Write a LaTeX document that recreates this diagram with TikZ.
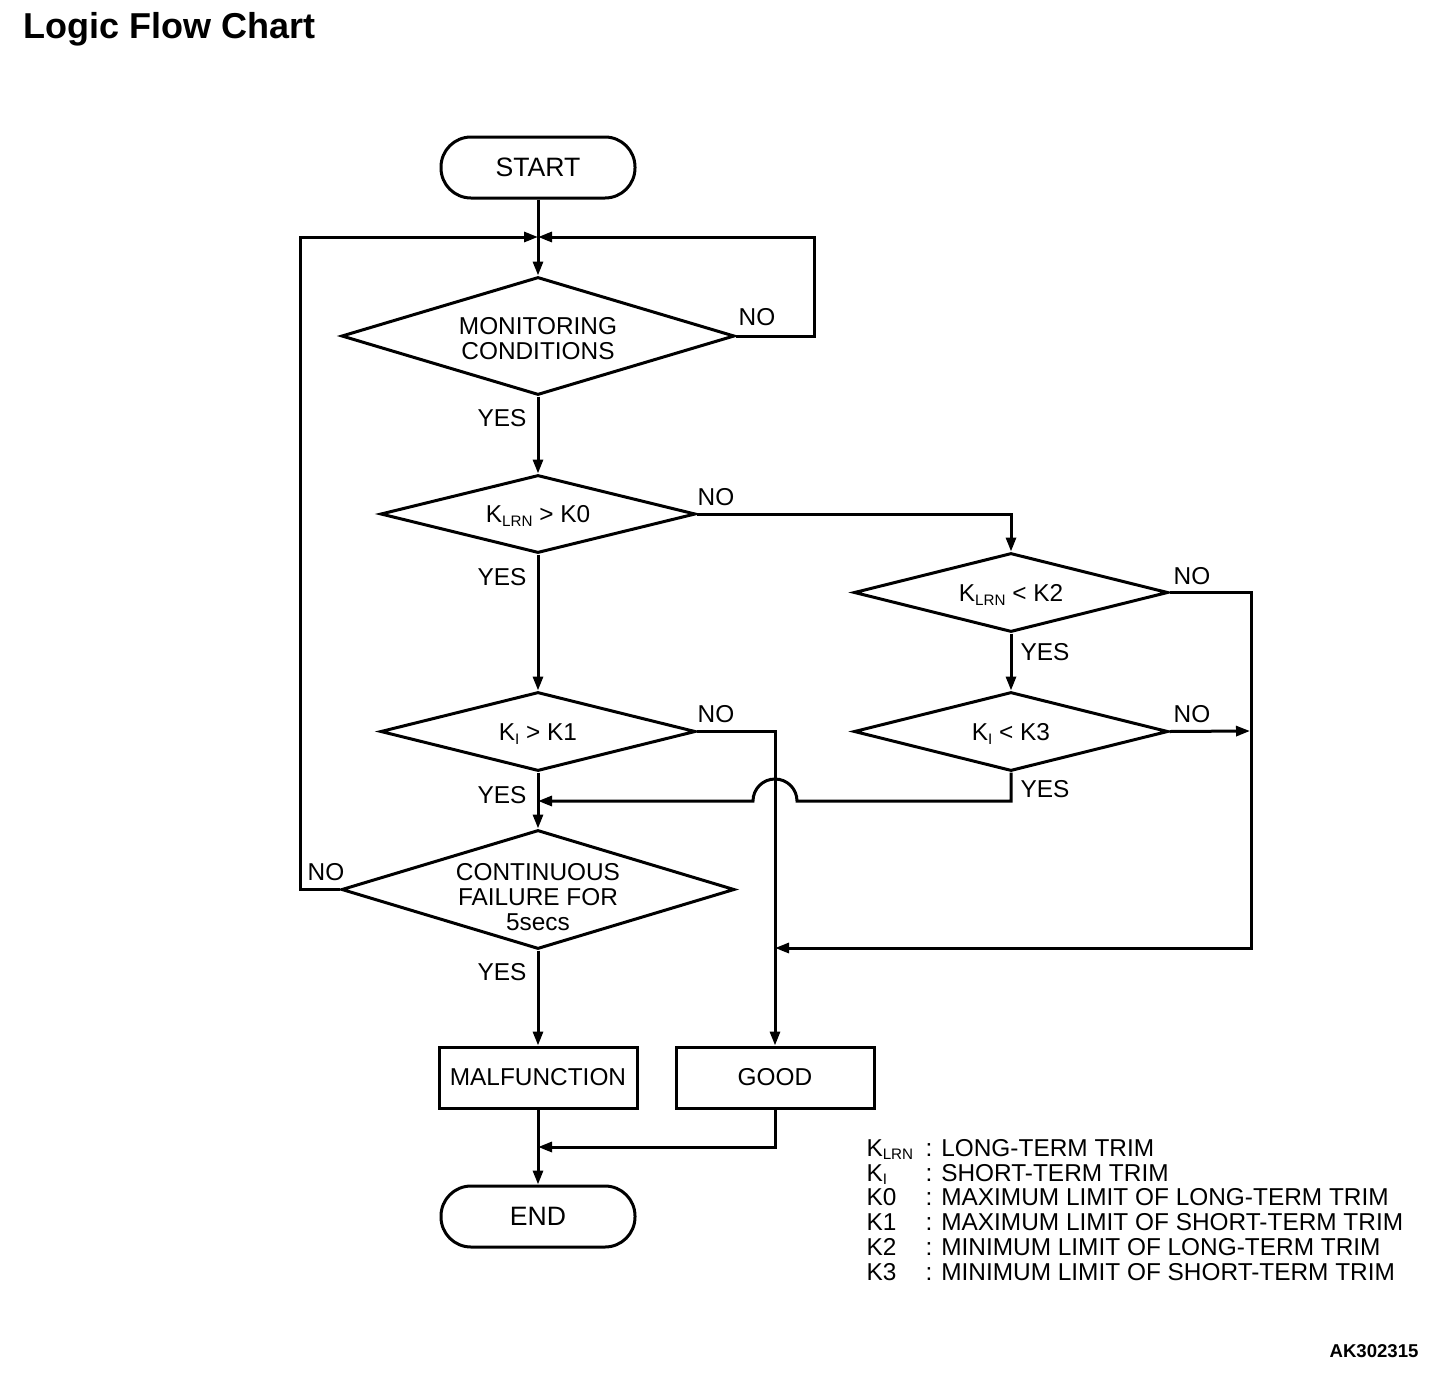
\documentclass[tikz,border=0pt]{standalone}
\usepackage{fontspec}
\setmainfont{Liberation Sans}
\usetikzlibrary{shapes.geometric,arrows.meta}
\newcommand{\lsub}[1]{\raisebox{-0.3ex}{\fontsize{7.6}{7.6}\selectfont #1}}
\begin{document}
\begin{tikzpicture}[x=0.5pt,y=-0.5pt,line width=1.5pt,
  every node/.style={font=\fontsize{12.2}{12.5}\selectfont},
  term/.style={draw,rectangle,rounded corners=15pt,minimum width=97pt,minimum height=30.5pt,inner sep=0pt,font=\fontsize{13.3}{13.3}\selectfont},
  procbox/.style={draw,rectangle,minimum width=99pt,minimum height=30.5pt,inner sep=0pt},
  dec/.style={draw,diamond,inner sep=0pt},
  lbl/.style={inner sep=0pt},
  legsym/.style={inner sep=0pt,anchor=base west},
  arr/.style={-{Triangle[length=7pt,width=5pt]}}]
\useasboundingbox (0,0) rectangle (1456,1376);

\node[lbl,anchor=base west,font=\fontsize{18}{18}\selectfont\bfseries] (title) at (22,39) {Logic Flow Chart};
\node[lbl,anchor=base east,font=\fontsize{9.3}{9.3}\selectfont\bfseries] (code) at (1420,1357) {AK302315};

\node[term] (start) at (538,167.5) {\raisebox{-1pt}{START}};
\node[dec,minimum width=196.5pt,minimum height=59pt,label={[align=center,yshift=-1.5pt]center:{MONITORING\\CONDITIONS}}] (d1) at (538,336) {};
\node[dec,minimum width=157.5pt,minimum height=39pt,label={[yshift=-1.2pt]center:{K\lsub{LRN} > K0}}] (d2) at (538,514) {};
\node[dec,minimum width=157pt,minimum height=39.5pt,label={[yshift=-1.2pt]center:{K\lsub{LRN} < K2}}] (d3) at (1011,592.5) {};
\node[dec,minimum width=157pt,minimum height=39.5pt,label={[yshift=-1.2pt]center:{K\lsub{I} < K3}}] (d4) at (1011,731.5) {};
\node[dec,minimum width=157.5pt,minimum height=39.5pt,label={[yshift=-1.2pt]center:{K\lsub{I} > K1}}] (d5) at (538,731.5) {};
\node[dec,minimum width=196.5pt,minimum height=59.5pt,label={[align=center,yshift=-4pt]center:{CONTINUOUS\\FAILURE FOR\\5secs}}] (d6) at (538,889.5) {};
\node[procbox] (mal) at (538,1077.5) {\raisebox{-1pt}{MALFUNCTION}};
\node[procbox] (good) at (775,1077.5) {\raisebox{-1pt}{GOOD}};
\node[term] (end) at (538,1216.5) {END};

\coordinate (merge) at (538,237);
\coordinate (rjoin) at (1250,731);
\coordinate (gjoin) at (775,948);
\coordinate (ljoin) at (538,801);
\coordinate (ejoin) at (538,1147);

\draw[arr] (start.south) -- (d1.north);
\draw[arr] (d1.east) -- ++(78,0) |- (merge);
\draw[arr] (d6.west) -- ++(-40,0) |- (merge);
\draw[arr] (d1.south) -- (d2.north);
\draw[arr] (d2.east) -| (d3.north);
\draw[arr] (d2.south) -- (d5.north);
\draw[arr] (d3.south) -- (d4.north);
\draw[arr] (d3.east) -- ++(82,0) |- (gjoin);
\draw[arr] (d4.east) -- (rjoin);
\draw[arr] (d5.east) -| (good.north);
\draw[arr] (d4.south) |- (797,801) arc[start angle=0,end angle=180,radius=11pt] -- (ljoin);
\draw[arr] (d5.south) -- (d6.north);
\draw[arr] (d6.south) -- (mal.north);
\draw[arr] (good.south) |- (ejoin);
\draw[arr] (mal.south) -- (end.north);

\node[lbl] (n1) at (757,317) {NO};
\node[lbl] (y1) at (502,418) {YES};
\node[lbl] (n2) at (716,497) {NO};
\node[lbl] (y2) at (502,577) {YES};
\node[lbl] (n3) at (1192,576) {NO};
\node[lbl] (y3) at (1045,652) {YES};
\node[lbl] (n5) at (716,714) {NO};
\node[lbl] (n4) at (1192,714) {NO};
\node[lbl] (y5) at (502,795) {YES};
\node[lbl] (y4) at (1045,789) {YES};
\node[lbl] (n6) at (326,872) {NO};
\node[lbl] (y6) at (502,972) {YES};

\node[legsym] (s1) at (865,1156) {K\lsub{LRN}};
\node[legsym] (s2) at (865,1181) {K\lsub{I}};
\node[legsym] (s3) at (865,1205) {K0};
\node[legsym] (s4) at (865,1230) {K1};
\node[legsym] (s5) at (865,1255) {K2};
\node[legsym] (s6) at (865,1280) {K3};
\node[legsym] (t1) at (924,1156) {: LONG-TERM TRIM};
\node[legsym] (t2) at (924,1181) {: SHORT-TERM TRIM};
\node[legsym] (t3) at (924,1205) {: MAXIMUM LIMIT OF LONG-TERM TRIM};
\node[legsym] (t4) at (924,1230) {: MAXIMUM LIMIT OF SHORT-TERM TRIM};
\node[legsym] (t5) at (924,1255) {: MINIMUM LIMIT OF LONG-TERM TRIM};
\node[legsym] (t6) at (924,1280) {: MINIMUM LIMIT OF SHORT-TERM TRIM};
\end{tikzpicture}
\end{document}
